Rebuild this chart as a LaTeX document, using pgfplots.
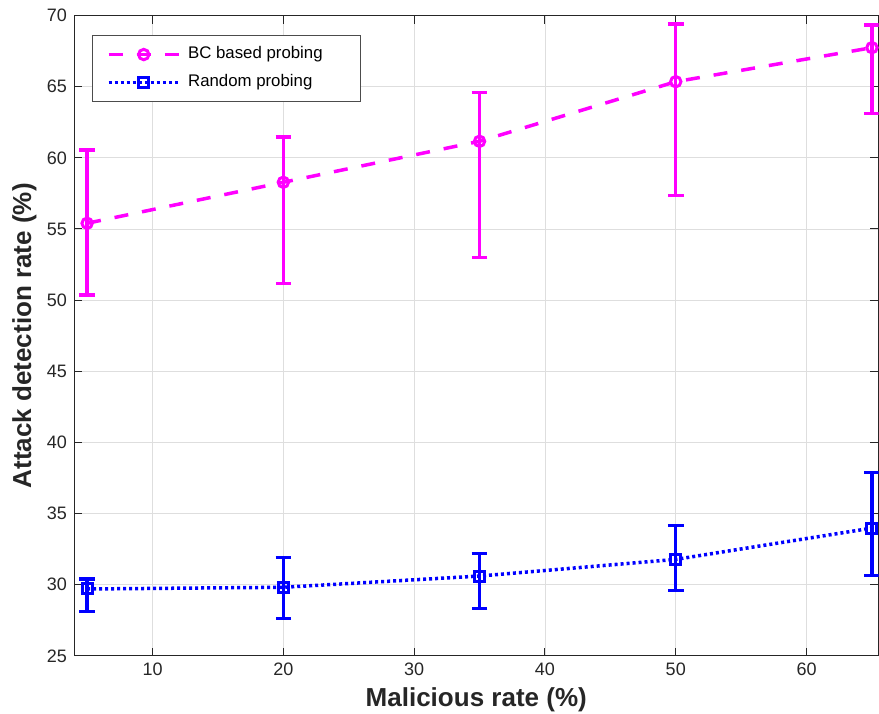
\documentclass[border=0pt]{standalone}
\usepackage{pgfplots}
\pgfplotsset{compat=1.18}
\usepackage{pgfplotstable}
\usepackage{fontspec}
\setmainfont{Liberation Sans}
\definecolor{axgray}{gray}{0.15}
\definecolor{mag}{rgb}{1,0,1}
\definecolor{blu}{rgb}{0,0,1}
\pgfplotstableread{
x y ep em
5 55.40 5.15 5.04
20 58.28 3.18 7.13
35 61.16 3.42 8.18
50 65.35 4.05 7.99
65 67.74 1.59 4.61
}\bcdata
\pgfplotstableread{
x y ep em
5 29.70 0.70 1.60
20 29.82 2.10 2.21
35 30.61 1.57 2.27
50 31.78 2.37 2.18
65 33.98 3.92 3.32
}\rnddata
\begin{document}
\begin{tikzpicture}
\begin{axis}[
  scale only axis, width=402pt, height=320pt,
  xmin=4, xmax=65.5, ymin=25, ymax=70,
  xtick={10,20,...,60}, ytick={25,30,...,70},
  grid=major, major grid style={black!13, line width=0.4pt},
  axis line style={axgray, line width=0.5pt},
  tick style={axgray, line width=0.5pt},
  tick align=inside, major tick length=4pt,
  ticklabel style={font=\fontsize{9}{10}\selectfont, text=axgray},
  /pgf/number format/assume math mode=true,
  xlabel={Malicious rate (\%)}, ylabel={Attack detection rate (\%)},
  label style={font=\bfseries\fontsize{13}{15}\selectfont, text=axgray},
  xlabel style={at={([yshift=-15.5pt]axis description cs:0.5,0)}, anchor=north, inner sep=0pt},
  ylabel style={at={([xshift=-18.5pt]axis description cs:0,0.5)}, anchor=south, inner sep=0pt},
  legend style={at={(axis description cs:0.0224,0.9695)}, anchor=north west,
    draw=black!70, line width=0.5pt, inner xsep=7.2pt, inner ysep=5.5pt,
    font=\fontsize{8.4}{10}\selectfont, text=black, row sep=6pt, column sep=3.8pt,
    nodes={inner sep=0pt, text height=6pt, text depth=2pt}},
  legend cell align=left,
  legend image code/.code={\draw[mark repeat=2,mark phase=2,#1] plot coordinates {(0pt,0pt) (17.5pt,0pt) (35pt,0pt)};},
]
\addplot[mag, line width=1.75pt, dash pattern=on 7pt off 7pt, mark=o, mark size=2.6pt,
  mark options={solid, line width=1.5pt},
  error bars/.cd, y dir=both, y explicit,
  error bar style={solid, line width=1.7pt},
  error mark options={rotate=90, mark size=3.9pt, line width=1.7pt, solid}]
  table[x=x, y=y, y error plus=ep, y error minus=em] {\bcdata};
\addlegendentry{\makebox[79pt][l]{BC based probing}}
\addplot[blu, line width=1.75pt, dash pattern=on 1.5pt off 1.5pt, mark=square, mark size=2.5pt,
  mark options={solid, line width=1.5pt},
  error bars/.cd, y dir=both, y explicit,
  error bar style={solid, line width=1.7pt},
  error mark options={rotate=90, mark size=3.9pt, line width=1.7pt, solid}]
  table[x=x, y=y, y error plus=ep, y error minus=em] {\rnddata};
\addlegendentry{\makebox[79pt][l]{Random probing}}
\end{axis}
\pgfresetboundingbox
\path[use as bounding box] ([shift={(-37pt,-28.65pt)}]current axis.south west) rectangle ([shift={(0.25pt,7.75pt)}]current axis.north east);
\end{tikzpicture}
\end{document}
